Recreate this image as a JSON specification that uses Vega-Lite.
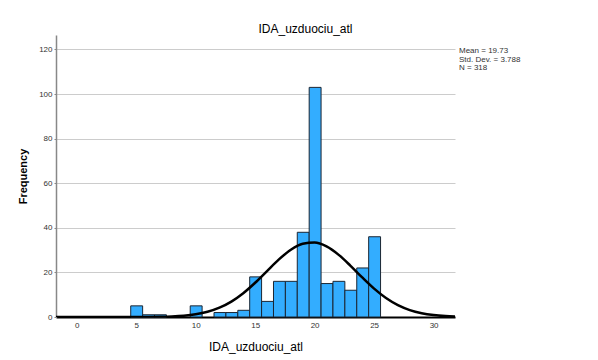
{
  "$schema": "https://vega.github.io/schema/vega-lite/v6.json",
  "width": 399,
  "height": 282,
  "autosize": {"type": "none"},
  "padding": {"left": 56, "top": 35, "right": 143, "bottom": 43},
  "background": "white",
  "title": {
    "text": "IDA_uzduociu_atl",
    "anchor": "middle",
    "frame": "group",
    "dx": 50,
    "offset": -1,
    "font": "Liberation Sans",
    "fontSize": 12,
    "fontWeight": "normal",
    "color": "#000000"
  },
  "config": {
    "view": {"stroke": null},
    "axis": {"labelFont": "Liberation Sans", "titleFont": "Liberation Sans"}
  },
  "datasets": {
    "bars": [
      {"lo": 4.5, "hi": 5.5, "count": 5},
      {"lo": 5.5, "hi": 6.5, "count": 1},
      {"lo": 6.5, "hi": 7.5, "count": 1},
      {"lo": 9.5, "hi": 10.5, "count": 5},
      {"lo": 11.5, "hi": 12.5, "count": 2},
      {"lo": 12.5, "hi": 13.5, "count": 2},
      {"lo": 13.5, "hi": 14.5, "count": 3},
      {"lo": 14.5, "hi": 15.5, "count": 18},
      {"lo": 15.5, "hi": 16.5, "count": 7},
      {"lo": 16.5, "hi": 17.5, "count": 16},
      {"lo": 17.5, "hi": 18.5, "count": 16},
      {"lo": 18.5, "hi": 19.5, "count": 38},
      {"lo": 19.5, "hi": 20.5, "count": 103},
      {"lo": 20.5, "hi": 21.5, "count": 15},
      {"lo": 21.5, "hi": 22.5, "count": 16},
      {"lo": 22.5, "hi": 23.5, "count": 12},
      {"lo": 23.5, "hi": 24.5, "count": 22},
      {"lo": 24.5, "hi": 25.5, "count": 36}
    ],
    "curve": [
      {"x": -1.74, "y": 0},
      {"x": 0, "y": 0},
      {"x": 2, "y": 0},
      {"x": 4, "y": 0.006},
      {"x": 5, "y": 0.017},
      {"x": 6, "y": 0.047},
      {"x": 7, "y": 0.118},
      {"x": 8, "y": 0.277},
      {"x": 9, "y": 0.606},
      {"x": 10, "y": 1.237},
      {"x": 11, "y": 2.352},
      {"x": 12, "y": 4.176},
      {"x": 13, "y": 6.913},
      {"x": 14, "y": 10.67},
      {"x": 15, "y": 15.36},
      {"x": 16, "y": 20.62},
      {"x": 17, "y": 25.83},
      {"x": 18, "y": 30.17},
      {"x": 19, "y": 32.87},
      {"x": 20, "y": 33.41},
      {"x": 21, "y": 31.66},
      {"x": 22, "y": 27.98},
      {"x": 23, "y": 23.07},
      {"x": 24, "y": 17.74},
      {"x": 25, "y": 12.72},
      {"x": 26, "y": 8.51},
      {"x": 27, "y": 5.31},
      {"x": 28, "y": 3.09},
      {"x": 29, "y": 1.676},
      {"x": 30, "y": 0.849},
      {"x": 31, "y": 0.4},
      {"x": 31.8, "y": 0.209}
    ],
    "stats": [
      {"label": ["Mean = 19.73", "Std. Dev. = 3.788", "N = 318"]}
    ]
  },
  "layer": [
    {
      "data": {"name": "bars"},
      "mark": {"type": "bar", "fill": "#33adff", "stroke": "#1b2633", "strokeWidth": 1, "binSpacing": 0},
      "encoding": {
        "x": {
          "field": "lo",
          "type": "quantitative",
          "bin": {"binned": true, "step": 1},
          "scale": {"domain": [-1.74, 31.8], "nice": false, "zero": false},
          "axis": {
            "values": [0, 5, 10, 15, 20, 25, 30],
            "format": "d",
            "title": "IDA_uzduociu_atl",
            "titleFontSize": 12,
            "titleFontWeight": "normal",
            "titleColor": "#000000",
            "titlePadding": 12,
            "labelFontSize": 8,
            "labelColor": "#333333",
            "labelPadding": 4,
            "ticks": false,
            "grid": false,
            "domainColor": "#000000",
            "domainWidth": 2
          }
        },
        "x2": {"field": "hi"},
        "y": {
          "field": "count",
          "type": "quantitative",
          "scale": {"domain": [0, 126.5], "nice": false},
          "axis": {
            "values": [0, 20, 40, 60, 80, 100, 120],
            "title": "Frequency",
            "titleFontSize": 11,
            "titleFontWeight": "bold",
            "titleColor": "#000000",
            "titlePadding": 10,
            "labelFontSize": 8,
            "labelColor": "#333333",
            "labelPadding": 2,
            "tickSize": 2,
            "tickColor": "#888888",
            "grid": true,
            "gridColor": "#cccccc",
            "gridWidth": 1,
            "domainColor": "#888888",
            "domainWidth": 1.5
          }
        }
      }
    },
    {
      "data": {"name": "curve"},
      "mark": {"type": "line", "color": "#000000", "strokeWidth": 2.5, "interpolate": "monotone", "clip": true},
      "encoding": {
        "x": {"field": "x", "type": "quantitative"},
        "y": {"field": "y", "type": "quantitative"}
      }
    },
    {
      "data": {"name": "stats"},
      "mark": {
        "type": "text",
        "align": "left",
        "baseline": "top",
        "dx": 4,
        "font": "Liberation Sans",
        "fontSize": 8,
        "lineHeight": 8.5,
        "color": "#333333",
        "clip": false
      },
      "encoding": {
        "x": {"datum": 31.8},
        "y": {"datum": 121},
        "text": {"field": "label"}
      }
    }
  ]
}
